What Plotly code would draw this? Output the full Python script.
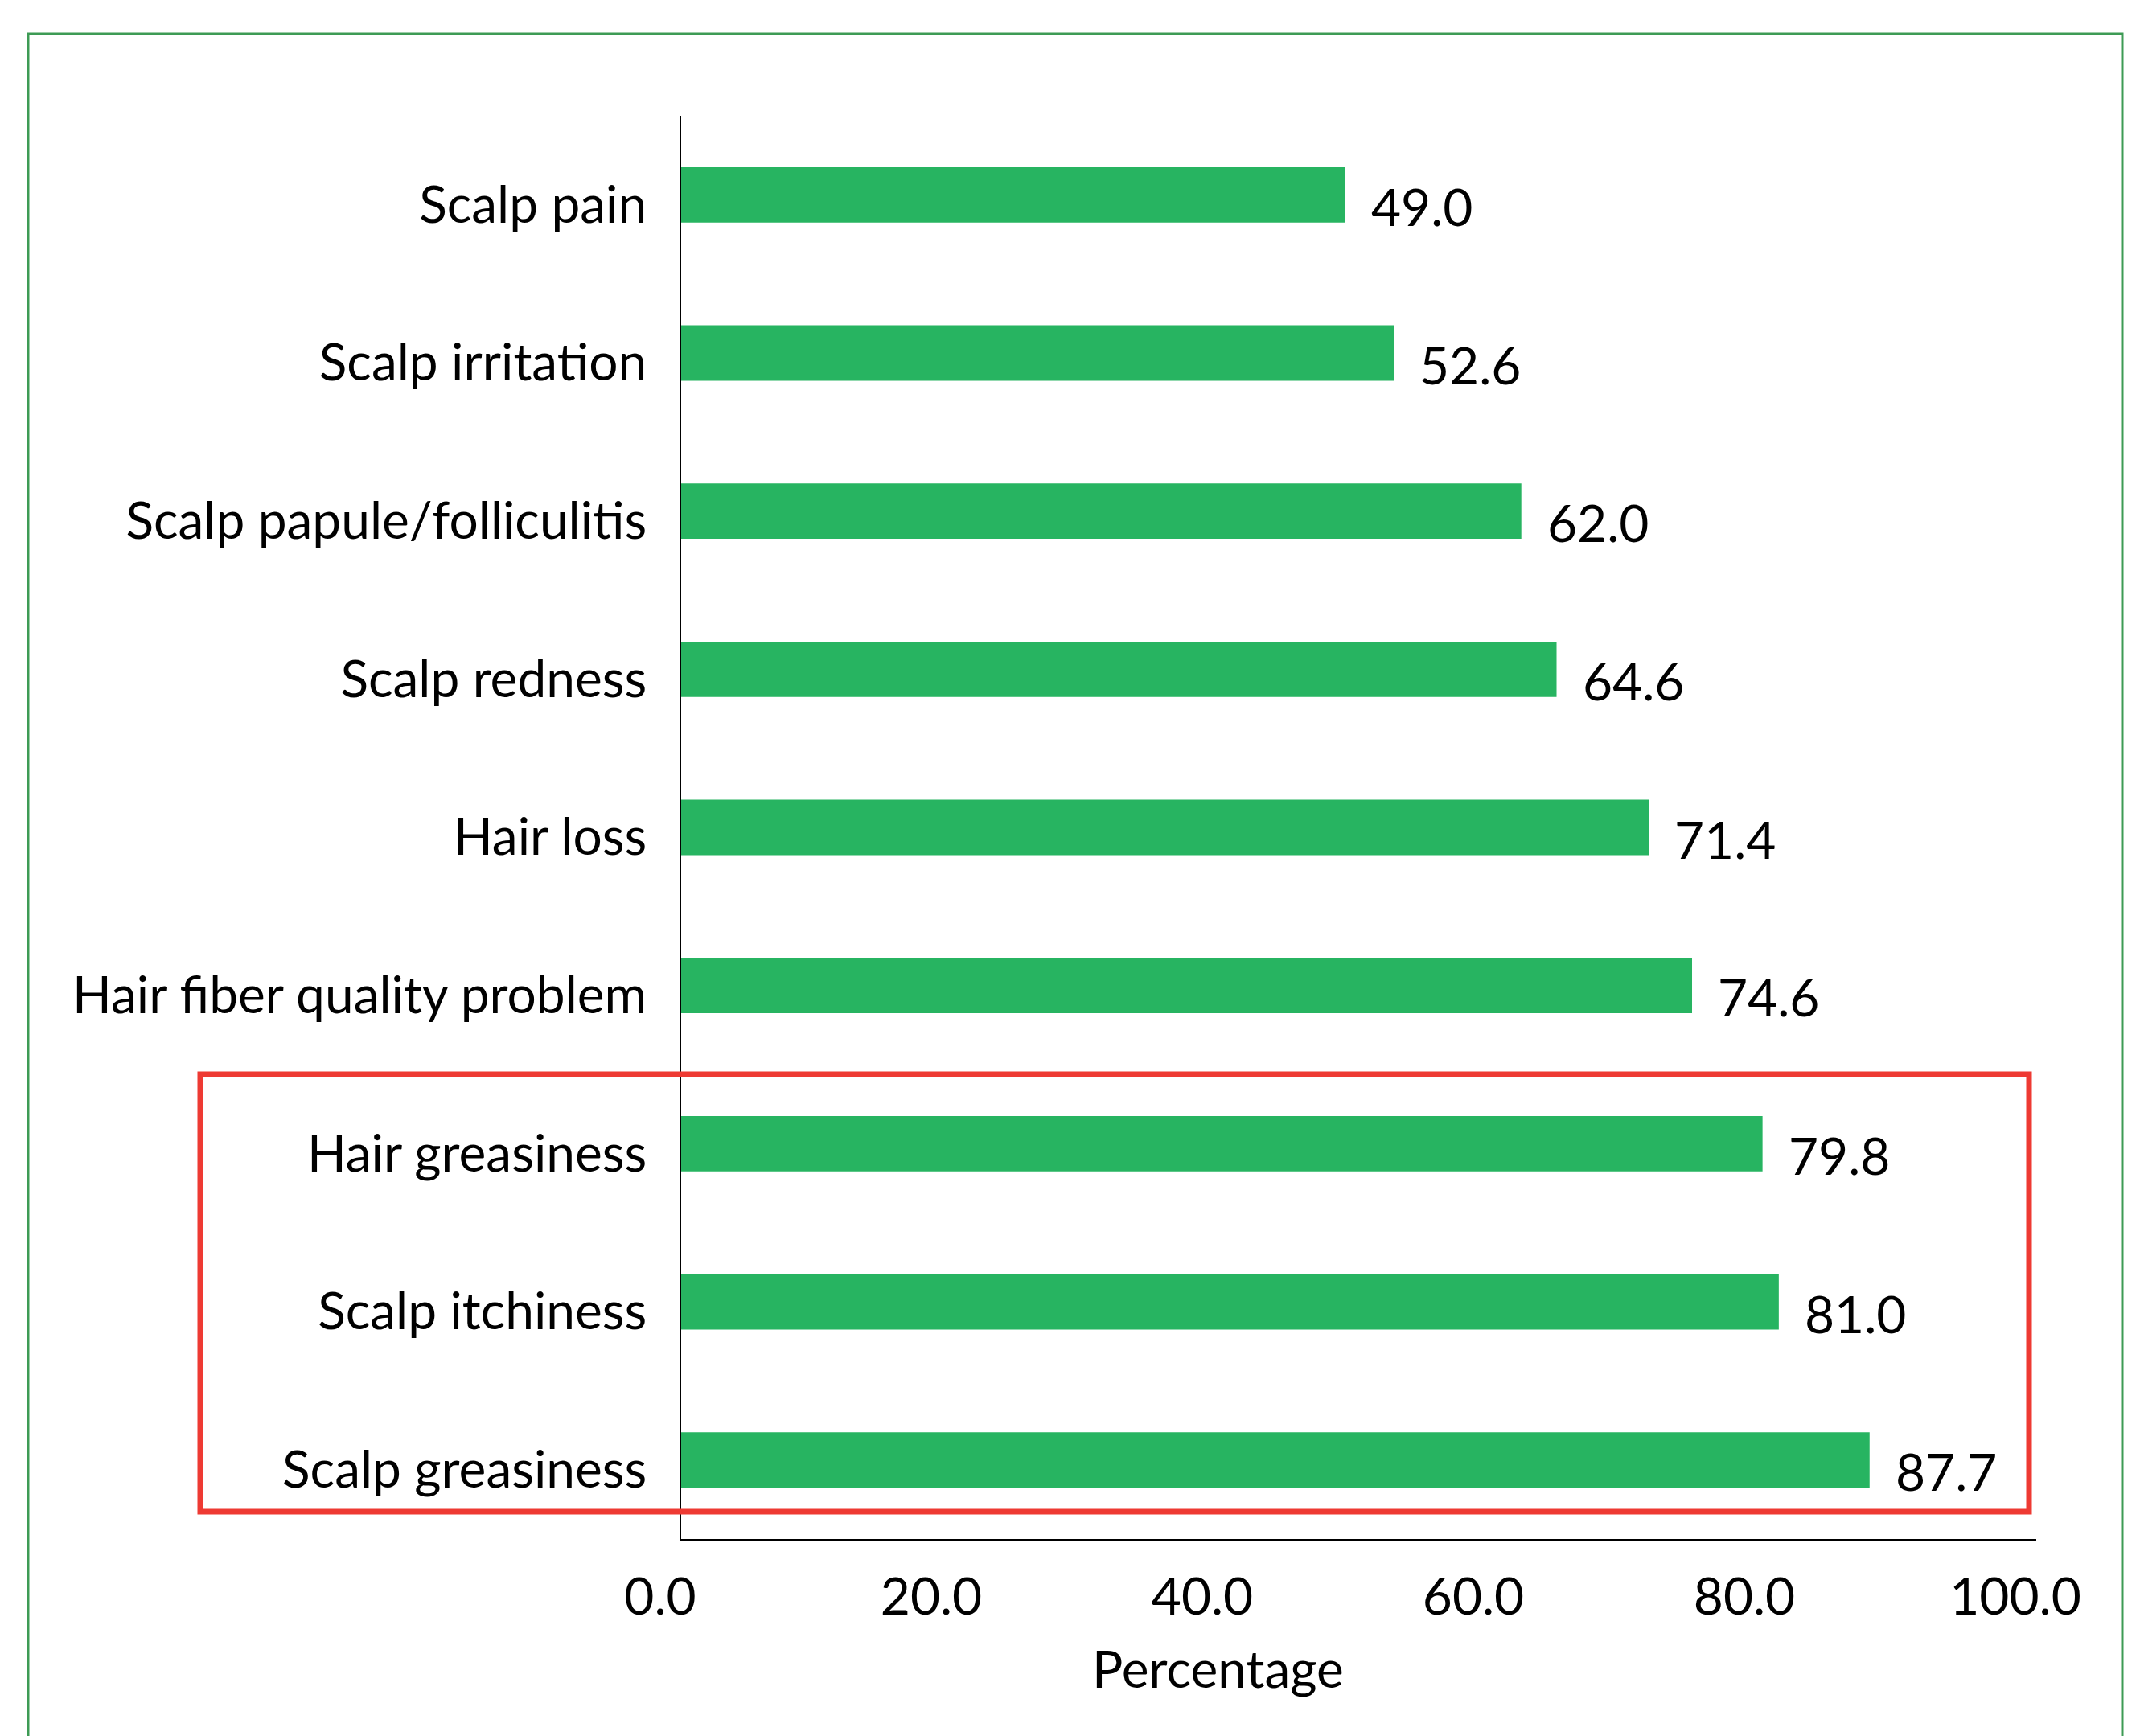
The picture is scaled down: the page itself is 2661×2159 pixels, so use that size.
import plotly.graph_objects as go

# Share of respondents reporting each scalp / hair symptom (%)
symptoms = [
    "Scalp pain",
    "Scalp irritation",
    "Scalp papule/folliculitis",
    "Scalp redness",
    "Hair loss",
    "Hair fiber quality problem",
    "Hair greasiness",
    "Scalp itchiness",
    "Scalp greasiness",
]
percentages = [49.0, 52.6, 62.0, 64.6, 71.4, 74.6, 79.8, 81.0, 87.7]
x_ticks = [0, 20, 40, 60, 80, 100]
x_tick_labels = ["0.0", "20.0", "40.0", "60.0", "80.0", "100.0"]

W, H = 2661, 2159
PLOT_L, PLOT_R, PLOT_T, PLOT_B = 847, 2532, 144, 1914
PW, PH = PLOT_R - PLOT_L, PLOT_B - PLOT_T


def px_to_paper_x(px):
    return (px - PLOT_L) / PW


def px_to_paper_y(py):
    return (PLOT_B - py) / PH


FONT = "Lato, 'Open Sans', sans-serif"
BAR_GREEN = "#27B461"
FRAME_GREEN = "#3E9B55"
RED = "#EE3A33"

fig = go.Figure(
    go.Bar(
        x=percentages,
        y=symptoms,
        orientation="h",
        marker=dict(color=BAR_GREEN, line=dict(width=0)),
        width=0.35,
        hoverinfo="skip",
    )
)

# value labels next to each bar end
for name, val in zip(symptoms, percentages):
    fig.add_annotation(
        x=val, y=name, xref="x", yref="y",
        text=f"{val:.1f}", showarrow=False,
        xanchor="left", yanchor="middle",
        xshift=30, yshift=-14,
        font=dict(family=FONT, size=64, color="black"),
    )

# x-axis title, placed under the axis
fig.add_annotation(
    x=px_to_paper_x(1514), y=px_to_paper_y(2074),
    xref="paper", yref="paper",
    text="Percentage", showarrow=False,
    xanchor="center", yanchor="middle",
    font=dict(family=FONT, size=64, color="black"),
)

# red box around the highlighted group
fig.add_shape(
    type="rect", xref="paper", yref="paper",
    x0=px_to_paper_x(249), x1=px_to_paper_x(2523),
    y0=px_to_paper_y(1880), y1=px_to_paper_y(1336),
    line=dict(color=RED, width=7), fillcolor="rgba(0,0,0,0)",
    layer="above",
)

# outer green panel frame
fig.add_shape(
    type="rect", xref="paper", yref="paper",
    x0=px_to_paper_x(35), x1=px_to_paper_x(2639),
    y0=px_to_paper_y(2220), y1=px_to_paper_y(42),
    line=dict(color=FRAME_GREEN, width=3), fillcolor="rgba(0,0,0,0)",
    layer="below",
)

fig.update_layout(
    width=W, height=H,
    margin=dict(l=PLOT_L, r=W - PLOT_R, t=PLOT_T, b=H - PLOT_B, pad=0),
    paper_bgcolor="white", plot_bgcolor="white",
    showlegend=False,
    bargap=0.65,
    xaxis=dict(
        range=[0, 100],
        tickvals=x_ticks, ticktext=x_tick_labels,
        showgrid=False, zeroline=False,
        showline=True, linecolor="black", linewidth=3,
        ticks="", ticklabelstandoff=14, ticklabelshift=-26,
        tickfont=dict(family=FONT, size=64, color="black"),
        fixedrange=True,
    ),
    yaxis=dict(
        categoryorder="array", categoryarray=symptoms,
        range=[8.5, -0.5],
        showgrid=False, zeroline=False,
        showline=True, linecolor="black", linewidth=2,
        ticks="", ticklabelstandoff=28, ticklabelshift=-12,
        tickfont=dict(family=FONT, size=64, color="black"),
        fixedrange=True,
    ),
)

fig.write_html("out.html")
